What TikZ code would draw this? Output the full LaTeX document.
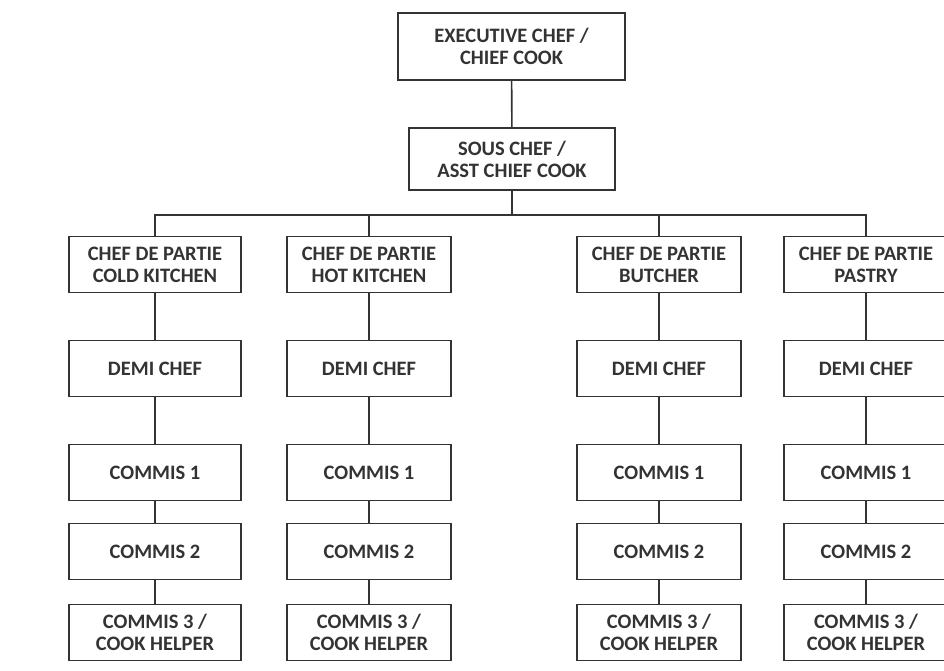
\documentclass[tikz,border=0pt]{standalone}
\usepackage{fontspec}
\setmainfont{Carlito}
\usepackage{tikz}
\usetikzlibrary{positioning,calc}
\usepackage{xcolor}
\definecolor{ink}{HTML}{333333}

\begin{document}
\begin{tikzpicture}[
    x=1pt, y=-1pt,
    block/.style={rectangle, draw=ink, line width=1.6pt, text=ink, minimum width=164pt, minimum height=56pt,
                  inner sep=0pt, align=center, font=\bfseries\fontsize{20.5}{22}\selectfont},
    line/.style={draw=ink, line width=1.6pt}
]
\useasboundingbox (0,0) rectangle (944,670);

% Top
\node[block, minimum width=227pt, minimum height=67pt] (exec) at (511.5,46.5) {EXECUTIVE CHEF /\\CHIEF COOK};
\node[block, minimum width=206pt, minimum height=62pt] (sous) at (512,159) {SOUS CHEF /\\ASST CHIEF COOK};
\coordinate (bus) at (512,215);

% Chef de partie
\node[block, minimum width=172pt] (cold) at (155,264.5) {CHEF DE PARTIE\\COLD KITCHEN};
\node[block] (hot) at (369,264.5) {CHEF DE PARTIE\\HOT KITCHEN};
\node[block] (butcher) at (659,264.5) {CHEF DE PARTIE\\BUTCHER};
\node[block] (pastry) at (866,264.5) {CHEF DE PARTIE\\PASTRY};

% Demi chef
\node[block, minimum width=172pt, below of=cold, node distance=104pt] (colddemi) {DEMI CHEF};
\node[block, below of=hot, node distance=104pt] (hotdemi) {DEMI CHEF};
\node[block, below of=butcher, node distance=104pt] (butcherdemi) {DEMI CHEF};
\node[block, below of=pastry, node distance=104pt] (pastrydemi) {DEMI CHEF};

% Commis 1
\node[block, minimum width=172pt, below of=colddemi, node distance=104pt] (coldc1) {COMMIS 1};
\node[block, below of=hotdemi, node distance=104pt] (hotc1) {COMMIS 1};
\node[block, below of=butcherdemi, node distance=104pt] (butcherc1) {COMMIS 1};
\node[block, below of=pastrydemi, node distance=104pt] (pastryc1) {COMMIS 1};

% Commis 2
\node[block, minimum width=172pt, below of=coldc1, node distance=79pt] (coldc2) {COMMIS 2};
\node[block, below of=hotc1, node distance=79pt] (hotc2) {COMMIS 2};
\node[block, below of=butcherc1, node distance=79pt] (butcherc2) {COMMIS 2};
\node[block, below of=pastryc1, node distance=79pt] (pastryc2) {COMMIS 2};

% Commis 3
\node[block, minimum width=172pt, below of=coldc2, node distance=81pt] (coldc3) {COMMIS 3 /\\COOK HELPER};
\node[block, below of=hotc2, node distance=81pt] (hotc3) {COMMIS 3 /\\COOK HELPER};
\node[block, below of=butcherc2, node distance=81pt] (butcherc3) {COMMIS 3 /\\COOK HELPER};
\node[block, below of=pastryc2, node distance=81pt] (pastryc3) {COMMIS 3 /\\COOK HELPER};

% Lines
\draw[line] (exec) -- (sous);
\draw[line] (sous) -- (bus);
\draw[line] (cold.north) |- (bus) -| (pastry.north);
\draw[line] (hot.north) -- (hot.north |- bus);
\draw[line] (butcher.north) -- (butcher.north |- bus);
\draw[line] (cold) -- (colddemi) -- (coldc1) -- (coldc2) -- (coldc3);
\draw[line] (hot) -- (hotdemi) -- (hotc1) -- (hotc2) -- (hotc3);
\draw[line] (butcher) -- (butcherdemi) -- (butcherc1) -- (butcherc2) -- (butcherc3);
\draw[line] (pastry) -- (pastrydemi) -- (pastryc1) -- (pastryc2) -- (pastryc3);

\end{tikzpicture}
\end{document}
